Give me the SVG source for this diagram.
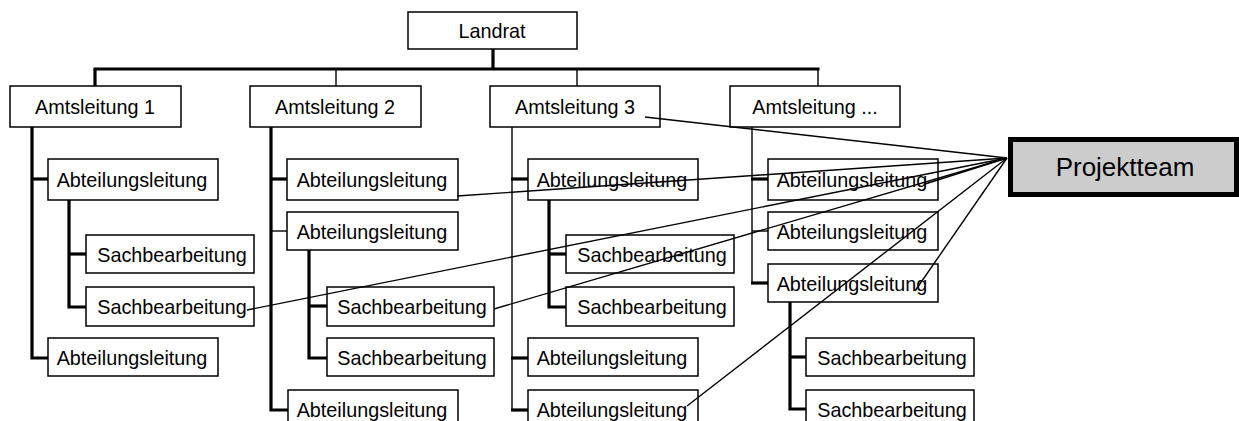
<svg xmlns="http://www.w3.org/2000/svg" width="1239" height="421" viewBox="0 0 1239 421">
<style>
.box{fill:#fff;stroke:#000;stroke-width:1.5}
.t{font-family:"Liberation Sans",Arial,sans-serif;font-size:19.8px;fill:#000;text-anchor:middle}
.pt{font-family:"Liberation Sans",Arial,sans-serif;font-size:26px;fill:#000;text-anchor:middle}
.thick{stroke:#000;stroke-width:3.2;fill:none}
.thin{stroke:#000;stroke-width:1.4;fill:none}
.link{stroke:#000;stroke-width:1.4;fill:none}
</style>
<rect width="1239" height="421" fill="#fff"/>
<g id="connectors">
  <line class="thick" x1="493" y1="49" x2="493" y2="69"/>
  <line class="thick" x1="93.5" y1="69" x2="819.5" y2="69"/>
  <line class="thick" x1="95" y1="69" x2="95" y2="86"/>
  <line class="thin" x1="336" y1="69" x2="336" y2="86"/>
  <line class="thin" x1="577" y1="69" x2="577" y2="86"/>
  <line class="thin" x1="818" y1="69" x2="818" y2="86"/>
  <!-- column 1 -->
  <polyline class="thick" points="32,127 32,358 48,358"/>
  <line class="thick" x1="32" y1="179" x2="48" y2="179"/>
  <polyline class="thick" points="69,200 69,307 86,307"/>
  <line class="thick" x1="69" y1="254" x2="86" y2="254"/>
  <!-- column 2 -->
  <polyline class="thick" points="271,127 271,410 288,410"/>
  <line class="thick" x1="271" y1="179" x2="287" y2="179"/>
  <line class="thin" x1="271" y1="231" x2="287" y2="231"/>
  <polyline class="thick" points="309,250 309,358 327,358"/>
  <line class="thick" x1="309" y1="306" x2="327" y2="306"/>
  <!-- column 3 -->
  <line class="thin" x1="512" y1="127" x2="512" y2="410"/>
  <line class="thick" x1="511" y1="179" x2="528" y2="179"/>
  <line class="thick" x1="511" y1="358" x2="528" y2="358"/>
  <line class="thick" x1="511" y1="410" x2="528" y2="410"/>
  <polyline class="thick" points="549,200 549,307 566,307"/>
  <line class="thick" x1="549" y1="254" x2="566" y2="254"/>
  <!-- column 4 -->
  <line class="thin" x1="752" y1="127" x2="752" y2="283"/>
  <line class="thick" x1="751" y1="179" x2="768" y2="179"/>
  <line class="thin" x1="752" y1="231" x2="768" y2="231"/>
  <line class="thick" x1="751" y1="283" x2="768" y2="283"/>
  <polyline class="thick" points="790,302 790,409 806,409"/>
  <line class="thick" x1="790" y1="357" x2="806" y2="357"/>
</g>
<g id="landrat"><rect class="box" x="408" y="12" width="169" height="37"/><text class="t" x="492" y="37.5">Landrat</text></g>
<g id="amt1"><rect class="box" x="10" y="86" width="171" height="41"/><text class="t" x="95" y="114">Amtsleitung 1</text></g>
<g id="amt2"><rect class="box" x="250" y="86" width="171" height="41"/><text class="t" x="335" y="114">Amtsleitung 2</text></g>
<g id="amt3"><rect class="box" x="490" y="86" width="170" height="41"/><text class="t" x="575" y="114">Amtsleitung 3</text></g>
<g id="amt4"><rect class="box" x="730" y="86" width="170" height="41"/><text class="t" x="815" y="114">Amtsleitung ...</text></g>
<!-- column 1 -->
<g id="c1-al1"><rect class="box" x="48" y="159" width="170" height="41"/><text class="t" x="132" y="186.5">Abteilungsleitung</text></g>
<g id="c1-sb1"><rect class="box" x="86" y="235" width="168" height="38"/><text class="t" x="172" y="261.5">Sachbearbeitung</text></g>
<g id="c1-sb2"><rect class="box" x="86" y="287" width="168" height="39"/><text class="t" x="172" y="313.5">Sachbearbeitung</text></g>
<g id="c1-al2"><rect class="box" x="48" y="338" width="170" height="38"/><text class="t" x="132" y="364.5">Abteilungsleitung</text></g>
<!-- column 2 -->
<g id="c2-al1"><rect class="box" x="287" y="159" width="171" height="41"/><text class="t" x="372" y="186.5">Abteilungsleitung</text></g>
<g id="c2-al2"><rect class="box" x="287" y="212" width="171" height="38"/><text class="t" x="372" y="238.5">Abteilungsleitung</text></g>
<g id="c2-sb1"><rect class="box" x="327" y="287" width="167" height="39"/><text class="t" x="412" y="313.5">Sachbearbeitung</text></g>
<g id="c2-sb2"><rect class="box" x="327" y="338" width="167" height="38"/><text class="t" x="412" y="364.5">Sachbearbeitung</text></g>
<g id="c2-al3"><rect class="box" x="288" y="390" width="170" height="40"/><text class="t" x="372" y="417">Abteilungsleitung</text></g>
<!-- column 3 -->
<g id="c3-al1"><rect class="box" x="528" y="159" width="170" height="41"/><text class="t" x="612" y="186.5">Abteilungsleitung</text></g>
<g id="c3-sb1"><rect class="box" x="566" y="235" width="168" height="38"/><text class="t" x="652" y="261.5">Sachbearbeitung</text></g>
<g id="c3-sb2"><rect class="box" x="566" y="287" width="168" height="39"/><text class="t" x="652" y="313.5">Sachbearbeitung</text></g>
<g id="c3-al2"><rect class="box" x="528" y="338" width="170" height="38"/><text class="t" x="612" y="364.5">Abteilungsleitung</text></g>
<g id="c3-al3"><rect class="box" x="528" y="390" width="170" height="40"/><text class="t" x="612" y="417">Abteilungsleitung</text></g>
<!-- column 4 -->
<g id="c4-al1"><rect class="box" x="768" y="159" width="170" height="41"/><text class="t" x="852" y="186.5">Abteilungsleitung</text></g>
<g id="c4-al2"><rect class="box" x="768" y="212" width="170" height="38"/><text class="t" x="852" y="238.5">Abteilungsleitung</text></g>
<g id="c4-al3"><rect class="box" x="768" y="264" width="170" height="38"/><text class="t" x="852" y="290.5">Abteilungsleitung</text></g>
<g id="c4-sb1"><rect class="box" x="806" y="338" width="168" height="38"/><text class="t" x="892" y="364.5">Sachbearbeitung</text></g>
<g id="c4-sb2"><rect class="box" x="806" y="390" width="168" height="40"/><text class="t" x="892" y="417">Sachbearbeitung</text></g>
<g id="links">
  <line class="link" x1="1007" y1="158" x2="645" y2="117"/>
  <line class="link" x1="1007" y1="158" x2="457" y2="196"/>
  <line class="link" x1="1007" y1="158" x2="247" y2="310"/>
  <line class="link" x1="1007" y1="158" x2="494" y2="309"/>
  <line class="link" x1="1007" y1="158" x2="687" y2="406"/>
  <line class="link" x1="1007" y1="158" x2="915" y2="291"/>
  <line class="link" x1="1007" y1="158" x2="925" y2="184"/>
</g>
<g id="projektteam"><rect x="1010.5" y="139.5" width="226" height="55" fill="#cccccc" stroke="#000" stroke-width="5"/><text class="pt" x="1125" y="176">Projektteam</text></g>
</svg>
